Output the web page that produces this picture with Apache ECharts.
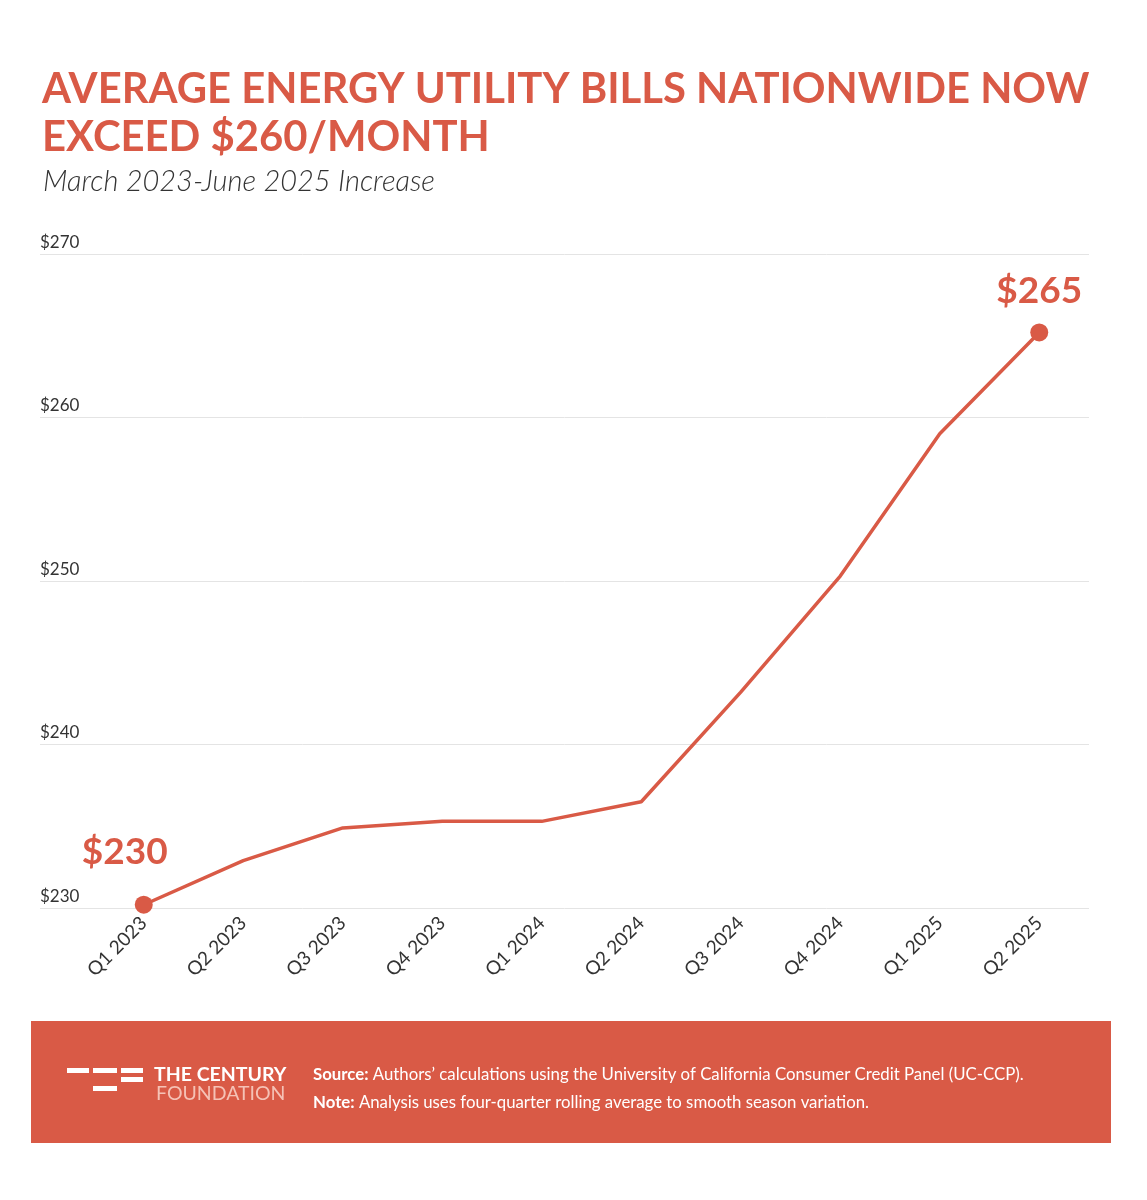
<!DOCTYPE html>
<html>
<head>
<meta charset="utf-8">
<script src="https://cdn.jsdelivr.net/npm/echarts@6/dist/echarts.min.js"></script>
<style>
html,body{margin:0;padding:0;background:#fff;}
#c{width:1147px;height:1200px;}
</style>
</head>
<body>
<div id="c"></div>
<script>
const categories = ['Q1 2023','Q2 2023','Q3 2023','Q4 2023','Q1 2024','Q2 2024','Q3 2024','Q4 2024','Q1 2025','Q2 2025'];
const bills = [230.2, 232.9, 234.9, 235.3, 235.3, 236.5, 243.2, 250.3, 259.0, 265.2];
const yTicks = [230, 240, 250, 260, 270];
const endLabels = ['$230', '$265'];

const RED = '#d95a46';
const FONT = 'Lato';
const last = bills.length - 1;

const seriesData = bills.map((v, i) => {
  if (i === 0 || i === last) {
    return {
      value: v,
      symbol: 'circle',
      symbolSize: 18,
      label: {
        show: true,
        position: 'top',
        formatter: i === 0 ? endLabels[0] : endLabels[1],
        offset: i === 0 ? [-19, -20] : [0, -9],
        color: RED,
        fontFamily: FONT,
        fontWeight: 'bold',
        fontSize: 37
      }
    };
  }
  return { value: v, symbol: 'none' };
});

const chart = echarts.init(document.getElementById('c'), null, {renderer: 'canvas'});
chart.setOption({
  animation: false,
  backgroundColor: '#fff',
  title: [
    {
      text: 'AVERAGE ENERGY UTILITY BILLS NATIONWIDE NOW\nEXCEED $260/MONTH',
      left: 37, top: 61,
      textStyle: {color: RED, fontFamily: FONT, fontWeight: 'bold', fontSize: 41.8, lineHeight: 48}
    },
    {
      text: 'March 2023-June 2025 Increase',
      left: 38, top: 162,
      textStyle: {color: '#333', fontFamily: FONT, fontStyle: 'italic', fontWeight: 300, fontSize: 29}
    }
  ],
  grid: [
    {left: 40, right: 58, top: 254, bottom: 292},
    {left: 94, right: 58, top: 254, bottom: 292}
  ],
  xAxis: [
    {type: 'value', gridIndex: 0, show: false, min: 0, max: 1},
    {
      type: 'category', gridIndex: 1, data: categories, boundaryGap: true,
      axisLine: {show: false}, axisTick: {show: false},
      axisLabel: {rotate: 45, interval: 0, margin: 12, color: '#333', fontFamily: FONT, fontSize: 19}
    }
  ],
  yAxis: [
    {
      type: 'value', gridIndex: 0, min: yTicks[0], max: yTicks[yTicks.length - 1], interval: 10,
      axisLine: {show: false}, axisTick: {show: false},
      splitLine: {lineStyle: {color: '#e4e4e4', width: 1}},
      axisLabel: {
        inside: true, margin: 0, verticalAlign: 'bottom', padding: [0, 0, 3, 0],
        color: '#333', fontFamily: FONT, fontSize: 17,
        formatter: v => '$' + v
      }
    },
    {
      type: 'value', gridIndex: 1, min: yTicks[0], max: yTicks[yTicks.length - 1], interval: 10,
      show: false, splitLine: {show: false}
    }
  ],
  series: [
    {
      type: 'line', xAxisIndex: 1, yAxisIndex: 1,
      data: seriesData,
      showSymbol: true,
      lineStyle: {color: RED, width: 3.5},
      itemStyle: {color: RED},
      emphasis: {disabled: true},
      z: 5
    }
  ],
  graphic: [
    {type: 'rect', shape: {x: 31, y: 1021, width: 1080, height: 122}, style: {fill: RED}, z: 0},
    {type: 'rect', shape: {x: 67, y: 1068, width: 22, height: 5}, style: {fill: '#fff'}},
    {type: 'rect', shape: {x: 93, y: 1068, width: 24, height: 5}, style: {fill: '#fff'}},
    {type: 'rect', shape: {x: 121, y: 1068, width: 22, height: 5}, style: {fill: '#fff'}},
    {type: 'rect', shape: {x: 121, y: 1077, width: 22, height: 5}, style: {fill: '#fff'}},
    {type: 'rect', shape: {x: 93, y: 1086, width: 24, height: 5}, style: {fill: '#fff'}},
    {type: 'text', left: 154, top: 1065, style: {text: 'THE CENTURY', fill: '#fff', font: 'bold 19.5px Lato'}},
    {type: 'text', left: 156, top: 1084, style: {text: 'FOUNDATION', fill: '#f5c2b6', font: 'normal 19.5px Lato'}},
    {
      type: 'text', left: 313, top: 1061,
      style: {
        text: '{b|Source:} Authors\u2019 calculations using the University of California Consumer Credit Panel (UC-CCP).\n{b|Note:} Analysis uses four-quarter rolling average to smooth season variation.',
        fill: '#fff', font: 'normal 16.8px Lato', lineHeight: 28,
        rich: {b: {fontWeight: 'bold', fontSize: 16.8, fontFamily: FONT, fill: '#fff', lineHeight: 28}}
      }
    }
  ]
});
</script>
</body>
</html>
